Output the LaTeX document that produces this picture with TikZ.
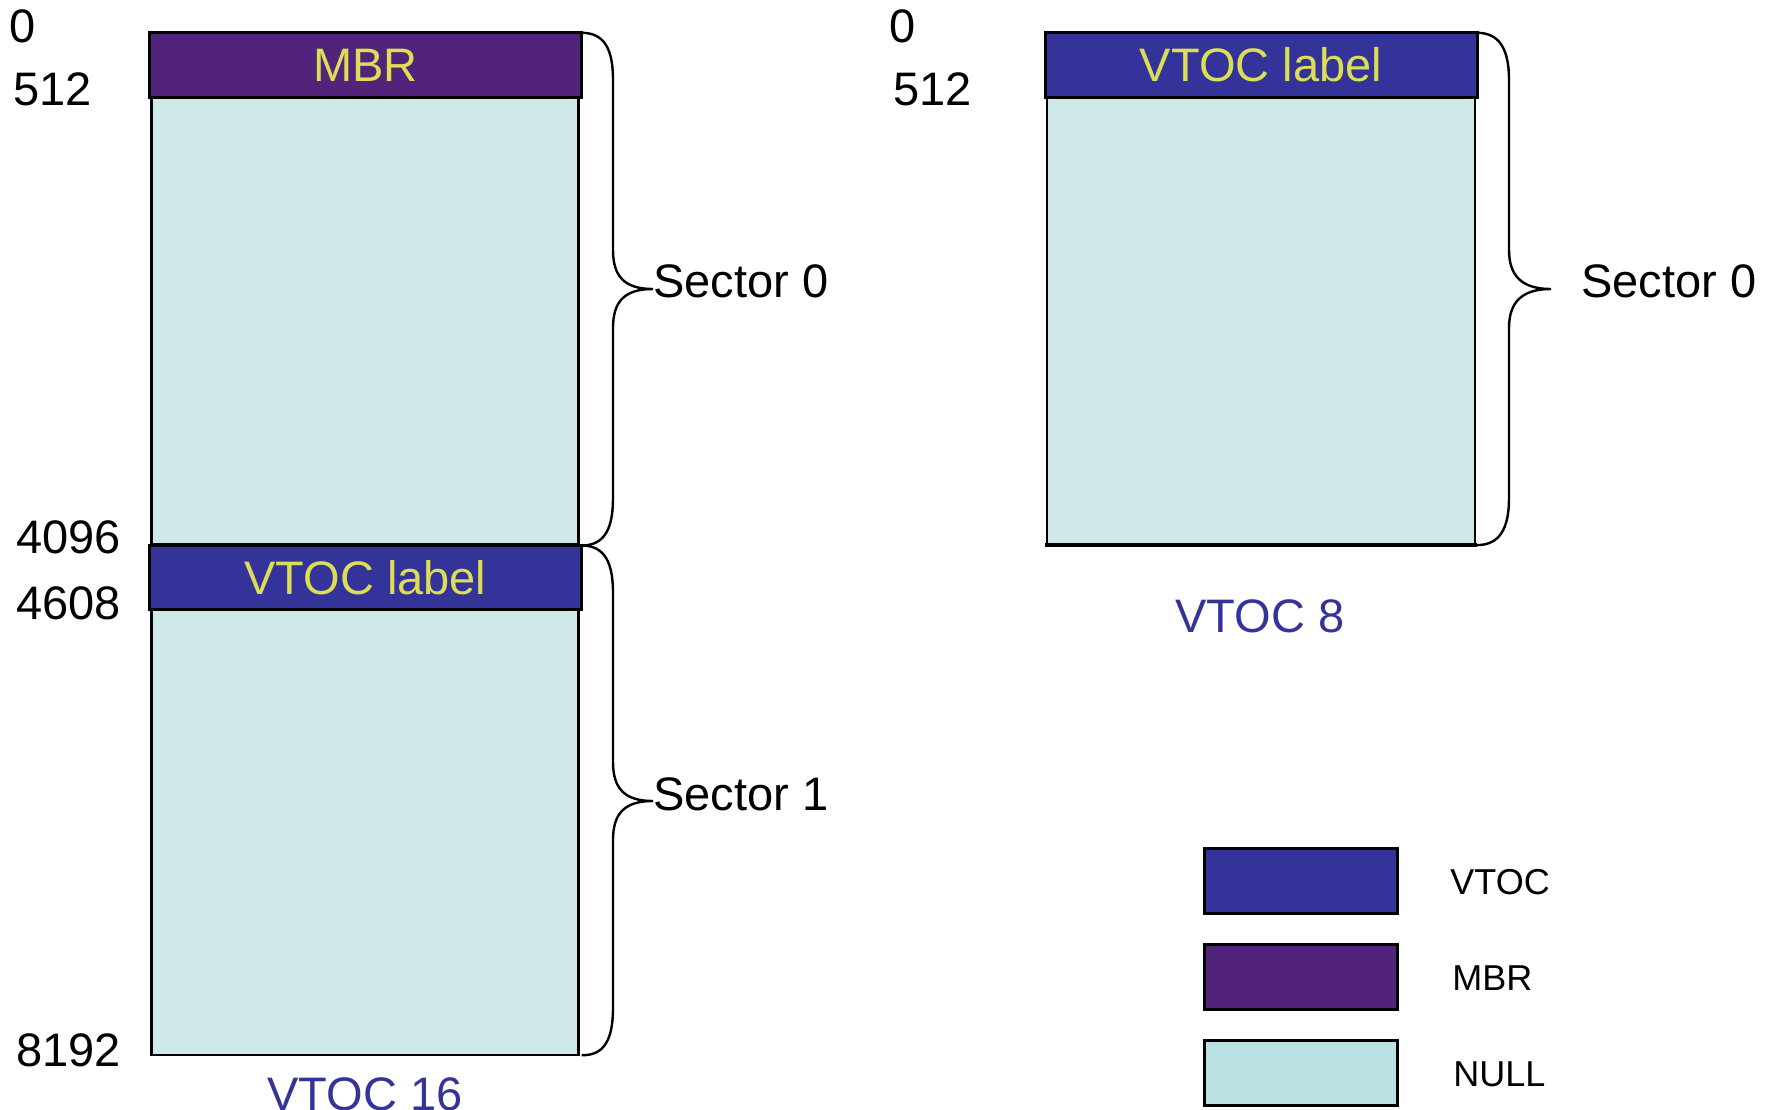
\documentclass[tikz,border=0pt]{standalone}
\usepackage{fontspec}
\setmainfont{Liberation Sans}
\definecolor{vtocblue}{HTML}{333399}
\definecolor{mbrpurple}{HTML}{52237A}
\definecolor{nullcell}{HTML}{CFE8E8}
\definecolor{nulllegend}{HTML}{B9E0E3}
\definecolor{hdrtext}{HTML}{DCDE55}
\begin{document}
\begin{tikzpicture}[x=0.5pt,y=-0.5pt,
  blk/.style={draw=black, line width=1.5pt, anchor=north west, inner sep=0pt, outer sep=0pt},
  cell/.style={blk, fill=nullcell, line width=1.1pt},
  hdr/.style={blk, text=hdrtext, font=\fontsize{23.5}{28}\selectfont},
  lbl/.style={anchor=base west, inner sep=0pt, font=\fontsize{23.5}{28}\selectfont},
  captxt/.style={anchor=base, inner sep=0pt, text=vtocblue, font=\fontsize{23.5}{28}\selectfont},
  leg/.style={anchor=base west, inner sep=0pt, font=\fontsize{18}{22}\selectfont},
  legbox/.style={blk, minimum width=96.5pt, minimum height=32.5pt},
  br/.style={draw=black, line width=1.2pt}]
\useasboundingbox (0,0) rectangle (1771,1109);

% ---- left column (VTOC 16) ----
\node[cell, minimum width=213.5pt, minimum height=223.7pt] (c1) at (151.4,97.1) {};
\node[cell, minimum width=213.5pt, minimum height=222.6pt] (c2) at (151.4,609.9) {};
\node[hdr, fill=mbrpurple, minimum width=216.3pt, minimum height=32.2pt] (mbr) at (149,32.8) {MBR};
\node[hdr, fill=vtocblue, minimum width=216.3pt, minimum height=32.2pt] (vtocL) at (149,545.5) {VTOC label};

\node[lbl] (l0) at (9,42) {0};
\node[lbl] (l512) at (13,105) {512};
\node[lbl] (l4096) at (16,553) {4096};
\node[lbl] (l4608) at (16,619) {4608};
\node[lbl] (l8192) at (16,1066) {8192};
\node[captxt] (cap16) at (365,1110) {VTOC 16};

\draw[br] (mbr.north east) .. controls (605,32.8) and (613,50) .. (613,80)
  -- (613,250) .. controls (613,276) and (624,289) .. (653,289)
  .. controls (624,289) and (613,302) .. (613,328)
  -- (613,498) .. controls (613,528) and (605,545.5) .. (vtocL.north east);
\draw[br] (vtocL.north east) .. controls (605,545.5) and (613,563) .. (613,593)
  -- (613,762) .. controls (613,788) and (624,801) .. (653,801)
  .. controls (624,801) and (613,814) .. (613,840)
  -- (613,1008) .. controls (613,1038) and (605,1056) .. (vtocL.east |- c2.south);

\node[lbl] (s0) at (653,297) {Sector 0};
\node[lbl] (s1) at (653,810) {Sector 1};

% ---- right column (VTOC 8) ----
\node[cell, minimum width=214pt, minimum height=224pt] (cR) at (1047,97.1) {};
\node[hdr, fill=vtocblue, minimum width=216pt, minimum height=32.2pt] (vtocR) at (1045,32.8) {VTOC label};
\draw[line width=2pt] (vtocR.west |- cR.south) -- (vtocR.east |- cR.south);

\node[lbl] (r0) at (889,42) {0};
\node[lbl] (r512) at (893,105) {512};
\node[captxt] (cap8) at (1260,632) {VTOC 8};

\draw[br] (vtocR.north east) .. controls (1500,32.8) and (1509,50) .. (1509,80)
  -- (1509,250) .. controls (1509,276) and (1522,289) .. (1551,289)
  .. controls (1522,289) and (1509,302) .. (1509,328)
  -- (1509,498) .. controls (1509,528) and (1500,545) .. (vtocR.east |- cR.south);
\node[lbl] (sR) at (1581,297) {Sector 0};

% ---- legend ----
\node[legbox, fill=vtocblue] (kv) at (1204,848) {};
\node[legbox, fill=mbrpurple] (km) at (1204,944) {};
\node[legbox, fill=nulllegend] (kn) at (1204,1040) {};
\node[leg] (tv) at (1450,894) {VTOC};
\node[leg] (tm) at (1452,990) {MBR};
\node[leg] (tn) at (1453,1086) {NULL};
\end{tikzpicture}
\end{document}
